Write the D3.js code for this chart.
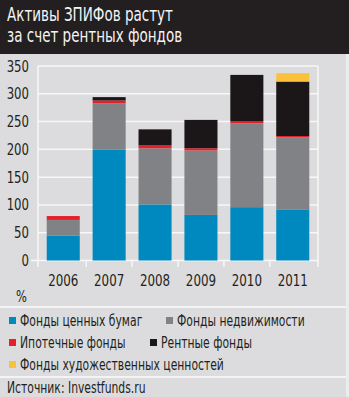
<!DOCTYPE html>
<html><head><meta charset="utf-8">
<script src="https://cdn.jsdelivr.net/npm/d3@7"></script>
<style>
html,body{margin:0;padding:0;background:#dcdcde;}
svg{display:block;}
text{font-family:"DejaVu Sans Condensed","Liberation Sans Narrow","Roboto",sans-serif;}
</style></head>
<body>
<script>
const years = ["2006","2007","2008","2009","2010","2011"];
const seriesNames = ["Фонды ценных бумаг","Фонды недвижимости","Ипотечные фонды","Рентные фонды","Фонды художественных ценностей"];
const securities = [45, 200, 101, 82, 96, 92];
const realEstate = [28, 83, 101, 116, 151, 130];
const mortgage   = [7, 5, 5, 4, 3, 2];
const rental     = [0, 6, 29, 51, 84, 98];
const art        = [0, 0, 0, 0, 0, 15];
const yTicks = [0, 50, 100, 150, 200, 250, 300, 350];
const colors = ["#0089bf","#818285","#e5202b","#1b1617","#fcc13b"];
const titleLines = ["Активы ЗПИФов растут","за счет рентных фондов"];
const unitLabel = "%";
const sourceText = "Источник: Investfunds.ru";

const W = 349, H = 397;
const svg = d3.select("body").append("svg").attr("width", W).attr("height", H);
svg.append("rect").attr("width", W).attr("height", H).attr("fill", "#dcdcde");
svg.append("rect").attr("x", 346).attr("width", 3).attr("height", H).attr("fill", "#ececed");

function condense(sel, f) {
  sel.each(function() {
    const w = this.getComputedTextLength();
    d3.select(this).attr("textLength", w * f).attr("lengthAdjust", "spacingAndGlyphs");
  });
  return sel;
}

// header
svg.append("rect").attr("width", W).attr("height", 54).attr("fill", "#231f20");
svg.selectAll(".title").data(titleLines).join("text")
  .attr("x", 7).attr("y", (d,i) => 21 + i*21)
  .attr("fill", "#f4f4f4").attr("font-size", 19)
  .text(d => d).call(condense, 0.79);

const data = years.map((y,i) => ({year:y, s0:securities[i], s1:realEstate[i], s2:mortgage[i], s3:rental[i], s4:art[i]}));
const keys = ["s0","s1","s2","s3","s4"];
const stack = d3.stack().keys(keys)(data);

const x = d3.scaleBand().domain(years).range([38, 318]).paddingInner(0.28).paddingOuter(0.19);
const y = d3.scaleLinear().domain([0, 350]).range([260.5, 66]);

// grid
const g = svg.append("g");
g.selectAll(".grid").data(yTicks).join("line")
  .attr("x1", d => d === 0 ? 31 : 38).attr("x2", 318)
  .attr("y1", d => y(d)).attr("y2", d => y(d))
  .attr("stroke", "#f7f7f7").attr("stroke-width", 1.5);
g.append("line").attr("x1", 38).attr("x2", 38).attr("y1", y(350)).attr("y2", 267).attr("stroke", "#f7f7f7").attr("stroke-width", 1.5);
g.append("line").attr("x1", 318).attr("x2", 318).attr("y1", y(350)).attr("y2", 267).attr("stroke", "#f7f7f7").attr("stroke-width", 1.5);
const bounds = years.slice(1).map(yr => x(yr) - x.step()*x.paddingInner()/2);
g.selectAll(".xt").data(bounds).join("line")
  .attr("x1", d => d).attr("x2", d => d).attr("y1", y(0)).attr("y2", 267)
  .attr("stroke", "#f7f7f7").attr("stroke-width", 1.5);

// y labels
g.selectAll(".yl").data(yTicks).join("text")
  .attr("x", 29).attr("y", d => y(d) + 5.5).attr("text-anchor", "end")
  .attr("font-size", 15.5).attr("fill", "#231f20").text(d => d).call(condense, 0.84);

// bars
svg.append("g").selectAll("g").data(stack).join("g")
  .attr("fill", (d,i) => colors[i])
  .selectAll("rect").data(d => d).join("rect")
  .attr("x", d => x(d.data.year)).attr("width", x.bandwidth())
  .attr("y", d => y(d[1])).attr("height", d => y(d[0]) - y(d[1]));

// x labels
svg.selectAll(".xl").data(years).join("text")
  .attr("x", d => x(d) + x.bandwidth()/2).attr("y", 286).attr("text-anchor", "middle")
  .attr("font-size", 15.5).attr("fill", "#231f20").text(d => d).call(condense, 0.85);

svg.append("text").attr("x", 16).attr("y", 302).attr("font-size", 15).attr("fill", "#231f20").text(unitLabel).call(condense, 0.85);

// separators
svg.append("rect").attr("x", 0).attr("y", 306).attr("width", 346).attr("height", 2).attr("fill", "#f4f4f4");
svg.append("rect").attr("x", 0).attr("y", 376).attr("width", 346).attr("height", 2).attr("fill", "#f4f4f4");

// legend
const legPos = [[9,326],[166,326],[9,348],[150,348],[9,370]];
const leg = svg.selectAll(".leg").data(seriesNames).join("g")
  .attr("transform", (d,i) => `translate(${legPos[i][0]},${legPos[i][1]})`);
leg.append("rect").attr("x", 0).attr("y", -9).attr("width", 7).attr("height", 7).attr("fill", (d,i) => colors[i]);
leg.append("text").attr("x", 11).attr("y", 0).attr("font-size", 15).attr("fill", "#231f20").text(d => d).call(condense, 0.8);

svg.append("text").attr("x", 7).attr("y", 393).attr("font-size", 15).attr("fill", "#231f20").text(sourceText).call(condense, 0.8);
</script>
</body></html>
